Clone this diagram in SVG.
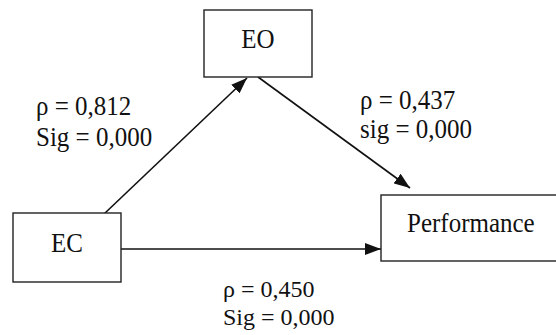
<svg xmlns="http://www.w3.org/2000/svg" width="556" height="335" viewBox="0 0 556 335">
<style>
.box{fill:#fff;stroke:#222;stroke-width:1.4}
.t{font-family:"Liberation Serif","Times New Roman",serif;font-size:25px;fill:#111}
.s{font-size:24px}
.c{stroke:#111;stroke-width:1.6;fill:none;marker-end:url(#ah)}
</style>
<defs>
<marker id="ah" viewBox="0 0 16 12" refX="16" refY="6" markerWidth="16" markerHeight="12" markerUnits="userSpaceOnUse" orient="auto">
<path d="M0,0 L16,6 L0,12 z" fill="#111"/>
</marker>
</defs>
<rect width="556" height="335" fill="#fff"/>
<g id="connectors">
<line class="c" x1="104" y1="214" x2="247" y2="78"/>
<line class="c" x1="258" y1="77" x2="410" y2="188"/>
<line class="c" x1="121" y1="249" x2="381" y2="249"/>
</g>
<g id="EO">
<rect class="box" x="204" y="10" width="108" height="67"/>
<text class="t" text-anchor="middle" transform="translate(258,48) scale(1,1.12)">EO</text>
</g>
<g id="EC">
<rect class="box" x="13" y="213" width="108" height="69"/>
<text class="t" text-anchor="middle" transform="translate(67,252) scale(1,1.12)">EC</text>
</g>
<g id="Performance">
<rect class="box" x="381" y="195" width="180" height="66"/>
<text class="t" transform="translate(407,232) scale(1,1.12)">Performance</text>
</g>
<g id="labels">
<text class="t" transform="translate(36,115) scale(1,1.12)">ρ = 0,812</text>
<text class="t" transform="translate(36,146) scale(1,1.12)">Sig = 0,000</text>
<text class="t" transform="translate(360,109) scale(1,1.08)">ρ = 0,437</text>
<text class="t" transform="translate(360,138) scale(1,1.08)">sig = 0,000</text>
<text class="t s" x="223" y="297">ρ = 0,450</text>
<text class="t s" x="223" y="325">Sig = 0,000</text>
</g>
</svg>
